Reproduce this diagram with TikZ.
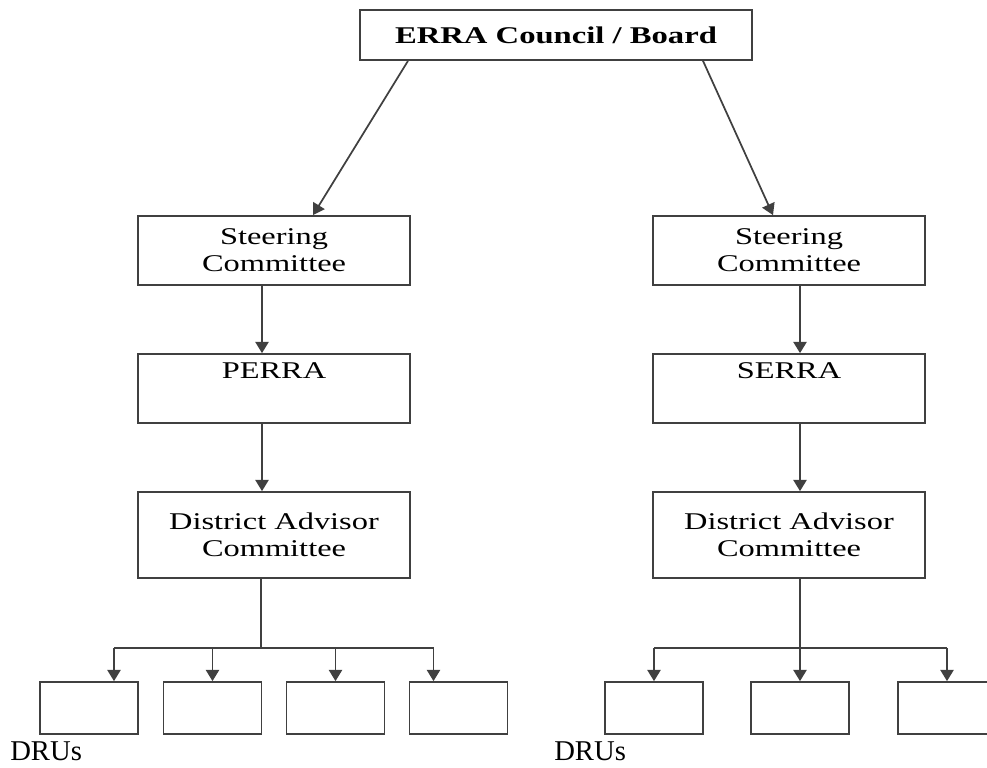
\documentclass[tikz,border=0pt]{standalone}
\usepackage{fontspec}
\setmainfont{Liberation Serif}[FakeStretch=1.35, BoldFeatures={FakeStretch=1.36}]
\newfontfamily\drufont{Liberation Serif}
\usetikzlibrary{arrows.meta}

\begin{document}
\begin{tikzpicture}[x=0.75pt, y=-0.75pt,
  box/.style={draw=black!75, line width=1.3pt, fill=white, inner sep=0pt, align=center, font=\fontsize{18}{20.25}\selectfont},
  midbox/.style={box, minimum width=204pt, minimum height=51.75pt},
  drubox/.style={box, minimum width=73.5pt, minimum height=39pt},
  link/.style={draw=black!75, line width=1.3pt},
  arr/.style={link, -{Triangle[width=10pt,length=8.5pt]}}]
% Page frame
\useasboundingbox (0,0) rectangle (987,767);
\clip (0,0) rectangle (987,767);
% Draw boxes
\node[box, minimum width=294pt, minimum height=37.5pt, font=\fontsize{18}{20.25}\selectfont\bfseries] (board) at (556,35) {ERRA Council / Board};
\node[midbox] (lsc) at (274,250.5) {Steering\\Committee};
\node[midbox] (perra) at (274,388.5) {PERRA\\\strut};
\node[midbox, minimum height=64.5pt] (ldac) at (274,535) {District Advisor\\Committee};
\node[midbox] (rsc) at (789,250.5) {Steering\\Committee};
\node[midbox] (serra) at (789,388.5) {SERRA\\\strut};
\node[midbox, minimum height=64.5pt] (rdac) at (789,535) {District Advisor\\Committee};
\foreach \i/\x in {1/89,2/212.5,3/335.5,4/458.5}
  \node[drubox] (ld\i) at (\x,708) {};
\foreach \i/\x in {1/654,2/800,3/947}
  \node[drubox] (rd\i) at (\x,708) {};
% Draw arrows
\coordinate (bl) at (408,0);
\coordinate (br) at (703,0);
\coordinate (sl) at (313,0);
\coordinate (sr) at (773,0);
\coordinate (lcol) at (262,0);
\coordinate (rcol) at (800,0);
\draw[arr] (board.south -| bl) -- (lsc.north -| sl);
\draw[arr] (board.south -| br) -- (rsc.north -| sr);
\draw[arr] (lsc.south -| lcol) -- (perra.north -| lcol);
\draw[arr] (perra.south -| lcol) -- (ldac.north -| lcol);
\draw[arr] (rsc.south -| rcol) -- (serra.north -| rcol);
\draw[arr] (serra.south -| rcol) -- (rdac.north -| rcol);
% Draw branches
\coordinate (lbus) at (261,648);
\coordinate (rbus) at (800,648);
\draw[link] (ldac.south -| lbus) -- (lbus);
\draw[link] ([xshift=18.75pt]ld1.north |- lbus) -- ([xshift=-18.75pt]ld4.north |- lbus);
\foreach \i/\dx in {1/18.75,2/0,3/0,4/-18.75}
  \draw[arr] ([xshift=\dx pt]ld\i.north |- lbus) -- ([xshift=\dx pt]ld\i.north);
\draw[link] (rdac.south -| rbus) -- (rbus);
\draw[link] (rd1.north |- rbus) -- (rd3.north |- rbus);
\foreach \i in {1,2,3}
  \draw[arr] (rd\i.north |- rbus) -- (rd\i.north);
% Draw labels
\node[font=\drufont\fontsize{21.5}{24}\selectfont, anchor=base west, inner sep=0pt] (ldru) at (10,760) {DRUs};
\node[font=\drufont\fontsize{21.5}{24}\selectfont, anchor=base west, inner sep=0pt] (rdru) at (554,760) {DRUs};
\end{tikzpicture}
\end{document}
